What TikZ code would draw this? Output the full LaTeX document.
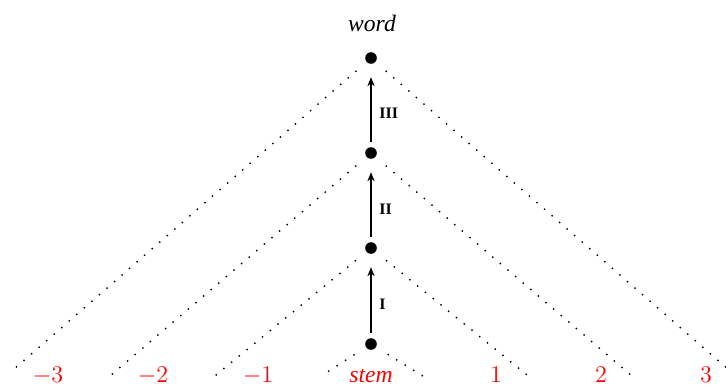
\documentclass[tikz,border=0pt]{standalone}
\usepackage[no-math]{fontspec}
\setmainfont{Liberation Serif}
\usetikzlibrary{arrows.meta}
\begin{document}
\begin{tikzpicture}[x=0.5pt,y=-0.5pt,
  dotnode/.style={circle,fill=black,inner sep=0pt,minimum size=5.8pt},
  dotline/.style={line width=1pt,line cap=round,dash pattern=on 0pt off 5pt,shorten <=7pt},
  arr/.style={line width=1.4pt,-{Stealth[length=4.5pt,width=3.6pt]},shorten <=2.5pt,shorten >=6.5pt},
  lvl/.style={font=\fontsize{8}{9}\selectfont\bfseries,anchor=west,inner sep=1.5pt,xshift=2pt},
  lab/.style={font=\fontsize{11.8}{14}\selectfont,text=red,anchor=base,inner sep=0pt}]
\clip (0,0) rectangle (726,385);
\useasboundingbox (0,0) rectangle (726,385);
% nodes
\node[dotnode] (n0) at (371,344) {};
\node[dotnode] (n1) at (371,248) {};
\node[dotnode] (n2) at (371,153) {};
\node[dotnode] (n3) at (371,58) {};
\node[font=\fontsize{11.8}{14}\selectfont,anchor=base,inner sep=0pt] (w) at (372,32) {\textit{word}};
% labels
\node[lab] (m3) at (48,382) {$-3$};
\node[lab] (m2) at (153,382) {$-2$};
\node[lab] (m1) at (258,382) {$-1$};
\node[lab] (st) at (371,382) {\textit{stem}};
\node[lab] (p1) at (496,382) {$1$};
\node[lab] (p2) at (601,382) {$2$};
\node[lab] (p3) at (706,382) {$3$};
% endpoints of dotted lines
\coordinate (e3l) at (13,370);  \coordinate (e3r) at (729,370);
\coordinate (e2l) at (110,376); \coordinate (e2r) at (632,376);
\coordinate (e1l) at (216,375); \coordinate (e1r) at (527,375);
\coordinate (e0l) at (321,376); \coordinate (e0r) at (423,376);
\draw[dotline] (n3) -- (e3l);
\draw[dotline] (n3) -- (e3r);
\draw[dotline] (n2) -- (e2l);
\draw[dotline] (n2) -- (e2r);
\draw[dotline] (n1) -- (e1l);
\draw[dotline] (n1) -- (e1r);
\draw[dotline] (n0) -- (e0l);
\draw[dotline] (n0) -- (e0r);
% arrows
\draw[arr] (n0) -- node[lvl,pos=0.4] (l1) {I} (n1);
\draw[arr] (n1) -- node[lvl,pos=0.4] (l2) {II} (n2);
\draw[arr] (n2) -- node[lvl,pos=0.4] (l3) {III} (n3);
\end{tikzpicture}
\end{document}
